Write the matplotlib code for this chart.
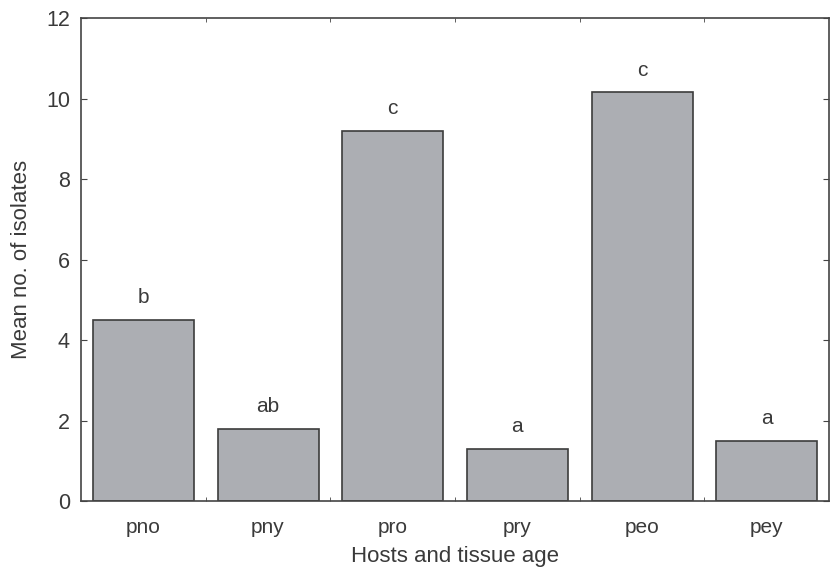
import matplotlib.pyplot as plt
import numpy as np

plt.rcParams['font.family'] = ['Liberation Sans', 'DejaVu Sans']

categories = ['pno', 'pny', 'pro', 'pry', 'peo', 'pey']
means = [4.5, 1.8, 9.2, 1.3, 10.15, 1.5]
letters = ['b', 'ab', 'c', 'a', 'c', 'a']
yticks = [0, 2, 4, 6, 8, 10, 12]

txt = '#3a3a3a'

fig = plt.figure(figsize=(8.32, 5.76), dpi=100)
ax = fig.add_axes([0.0974, 0.1302, 0.899, 0.8385])

x = np.arange(len(categories))
bars = ax.bar(x, means, width=0.81, color='#acaeb3', edgecolor='#3c3c3c', linewidth=1.2)

for b, lab in zip(bars, letters):
    ax.annotate(lab, (b.get_x() + b.get_width() / 2, b.get_height()),
                xytext=(0, 9), textcoords='offset points',
                ha='center', va='bottom', fontsize=15, color=txt)

ax.set_xlim(-0.5, len(categories) - 0.5)
ax.set_ylim(0, 12)
ax.set_yticks(yticks)
ax.set_xticks(x)
ax.set_xticklabels(categories)
ax.set_xticks(x[:-1] + 0.5, minor=True)

ax.tick_params(axis='x', which='major', length=0, pad=12, labelsize=15, labelcolor=txt)
ax.tick_params(axis='x', which='minor', direction='in', length=3, top=True, bottom=True, color='#444444')
ax.tick_params(axis='y', direction='in', length=4, left=True, right=True, pad=8, labelsize=15.5,
               labelcolor=txt, color='#444444')

for s in ax.spines.values():
    s.set_color('#444444')
    s.set_linewidth(1.2)

ax.set_ylabel('Mean no. of isolates', fontsize=16, color=txt, labelpad=10)
ax.set_xlabel('Hosts and tissue age', fontsize=16, color=txt, labelpad=7)

plt.savefig('out.png', dpi=100)
plt.close()
